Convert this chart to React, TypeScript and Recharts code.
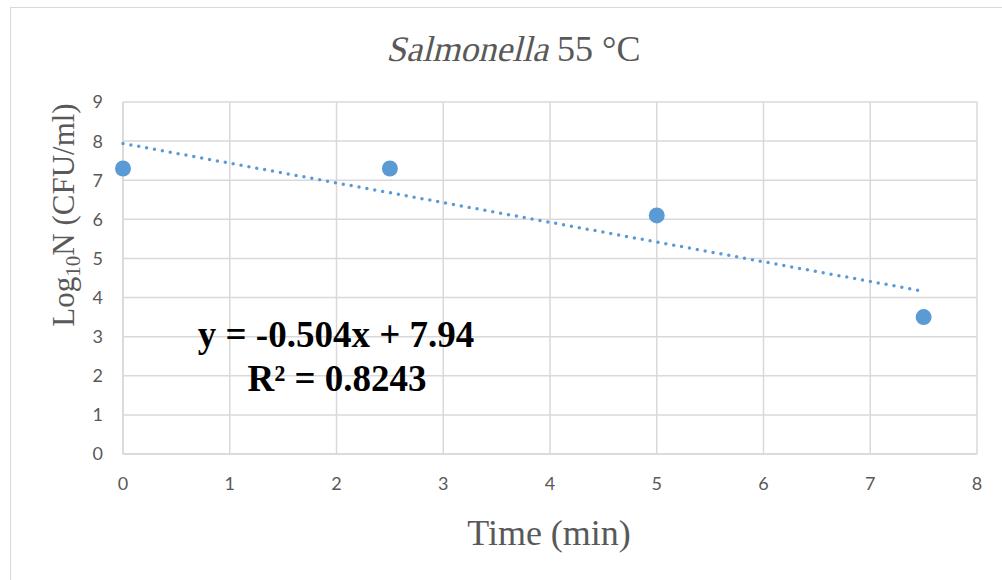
import React from 'react';
import { ScatterChart, Scatter, XAxis, YAxis, CartesianGrid } from 'recharts';

const timeMin = [0, 2.5, 5, 7.5];
const logN = [7.3, 7.3, 6.1, 3.5];
const xTicks = [0, 1, 2, 3, 4, 5, 6, 7, 8];
const yTicks = [0, 1, 2, 3, 4, 5, 6, 7, 8, 9];
const trendSlope = -0.504;
const trendIntercept = 7.94;
const rSquared = '0.8243';

const points = timeMin.map((t, i) => ({ x: t, y: logN[i] }));
const trendX = [timeMin[0], timeMin[timeMin.length - 1]];
const trend = trendX.map((t) => ({ x: t, y: trendIntercept + trendSlope * t }));

const BLUE = '#5b9bd5';
const GRID = '#d9d9d9';
const TEXT = '#595959';
const SERIF = '"Liberation Serif", "Times New Roman", serif';
const SANS = 'Lato, "Open Sans", sans-serif';

const Dot = (props: any) => <circle cx={props.cx} cy={props.cy} r={8} fill={BLUE} />;
const NoDot = () => null;

export default function App() {
  return (
    <div style={{ position: 'absolute', left: 0, top: 0, width: 1002, height: 580, background: '#fff' }}>
      <div style={{ position: 'absolute', left: 10, top: 7, width: 1, height: 573, background: GRID }} />
      <div style={{ position: 'absolute', left: 10, top: 7, width: 992, height: 1, background: GRID }} />
      <ScatterChart width={1002} height={580} margin={{ top: 102, right: 25, bottom: 0, left: 0 }}>
        <CartesianGrid stroke={GRID} strokeWidth={1.5} />
        <XAxis
          type="number"
          dataKey="x"
          domain={[0, 8]}
          ticks={xTicks}
          height={126}
          axisLine={{ stroke: GRID, strokeWidth: 1.5 }}
          tickLine={false}
          tickSize={0}
          tickMargin={23}
          tick={{ fill: TEXT, fontSize: 18, fontFamily: SANS }}
        />
        <YAxis
          type="number"
          dataKey="y"
          domain={[0, 9]}
          ticks={yTicks}
          width={123}
          axisLine={{ stroke: GRID, strokeWidth: 1.5 }}
          tickLine={false}
          tickSize={0}
          tickMargin={20}
          tick={{ fill: TEXT, fontSize: 18, fontFamily: SANS }}
        />
        <Scatter
          data={trend}
          line={{ stroke: BLUE, strokeWidth: 3.5, strokeDasharray: '0 8', strokeLinecap: 'round' }}
          shape={NoDot}
          isAnimationActive={false}
        />
        <Scatter data={points} shape={Dot} isAnimationActive={false} />
      </ScatterChart>
      <svg width={1002} height={580} style={{ position: 'absolute', left: 0, top: 0, pointerEvents: 'none' }}>
        <text
          x={0}
          y={0}
          transform="translate(548,61) skewX(-14)"
          textAnchor="end"
          fontFamily={SERIF}
          fontSize={36}
          fill={TEXT}
        >
          Salmonella
        </text>
        <text x={548} y={61} textAnchor="start" fontFamily={SERIF} fontSize={36} fill={TEXT} style={{ whiteSpace: 'pre' }}>
          {' 55 °C'}
        </text>
        <text x={549} y={545} textAnchor="middle" fontFamily={SERIF} fontSize={36} fill={TEXT}>
          Time (min)
        </text>
        <text
          x={0}
          y={0}
          transform="translate(74,215) rotate(-90)"
          textAnchor="middle"
          fontFamily={SERIF}
          fontSize={31}
          fill={TEXT}
        >
          Log<tspan fontSize={21} dy={6}>10</tspan>
          <tspan dy={-6}>N (CFU/ml)</tspan>
        </text>
        <text x={336} y={347} textAnchor="middle" fontFamily={SERIF} fontSize={37} fontWeight="bold" fill="#000">
          {`y = ${trendSlope}x + ${trendIntercept}`}
        </text>
        <text x={337} y={391} textAnchor="middle" fontFamily={SERIF} fontSize={37} fontWeight="bold" fill="#000">
          {`R² = ${rSquared}`}
        </text>
      </svg>
    </div>
  );
}
